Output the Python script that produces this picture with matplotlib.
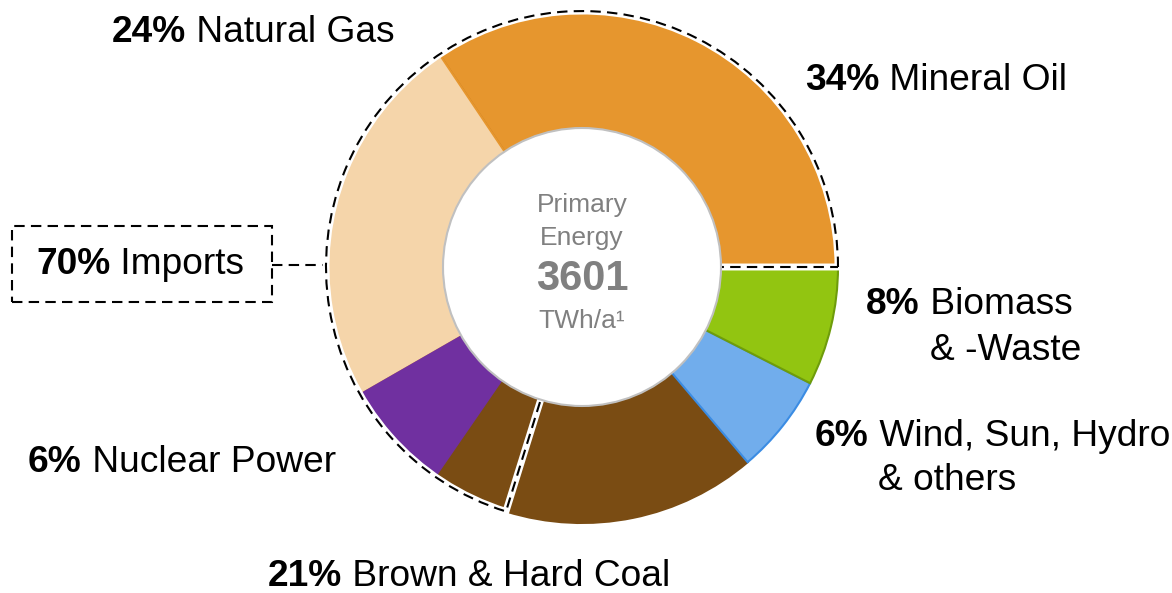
import matplotlib.pyplot as plt
from matplotlib.patches import Wedge, Circle, Rectangle

plt.rcParams['font.family'] = ['Liberation Sans', 'DejaVu Sans']

# wedge shares as drawn (counter-clockwise from 3 o'clock)
sources = ["Mineral Oil", "Natural Gas", "Nuclear Power", "Hard Coal",
           "Brown Coal", "Wind, Sun, Hydro", "Biomass"]
shares = [34.4, 23.9, 7.1, 4.8, 16.0, 6.3, 7.5]
imported = [True, True, True, True, False, False, False]
face_colors = ["#E6962E", "#F5D5AA", "#7030A0", "#7A4C13", "#7A4C13", "#71ADEC", "#92C511"]
edge_colors = ["#C47A1C", "#E6962E", "#7030A0", "#7A4C13", "#7A4C13", "#3B8CE3", "#6E9C0B"]

total_energy = "3601"
imports_pct = "70%"

# label: (bold part, rest, x, y) in pixel coordinates from top-left
labels = [
    ("24%", " Natural Gas", 112, 32),
    ("34%", " Mineral Oil", 805, 80),
    ("8%", " Biomass", 866, 305),
    ("6%", " Wind, Sun, Hydro", 815, 437),
    ("6%", " Nuclear Power", 28, 463),
    ("21%", " Brown & Hard Coal", 268, 577),
]
second_lines = [("& -Waste", 930, 350), ("& others", 878, 481)]

W, H = 1172, 593
FS = 26.7

fig = plt.figure(figsize=(W / 100, H / 100), dpi=100)
ax = fig.add_axes([0, 0, 1, 1])

cx, cy, r_out, r_in = 582, H - 267, 256, 139

wedges, _ = ax.pie(shares, colors=face_colors, startangle=0, counterclock=True,
                   center=(cx, cy), radius=r_out, frame=True)
for w, ec in zip(wedges, edge_colors):
    w.set_edgecolor(ec)
    w.set_linewidth(1.5)

# dashed outline around the imported part
imp_angle = 360 * sum(s for s, i in zip(shares, imported) if i) / sum(shares)
ax.add_patch(Wedge((cx, cy), r_out, 0, imp_angle, fill=False, ec="white", lw=5, zorder=3))
ax.add_patch(Wedge((cx, cy), r_out, 0, imp_angle, fill=False, ec="black", lw=1.5,
                   ls=(0, (5, 3)), zorder=4))

# donut hole
ax.add_patch(Circle((cx, cy), r_in, fc="white", ec="#C0C0C0", lw=1.5, zorder=5))

grey = "#808080"
ax.text(cx, H - 205, "Primary", ha="center", va="center", fontsize=19, color=grey, zorder=6)
ax.text(cx, H - 238, "Energy", ha="center", va="center", fontsize=19, color=grey, zorder=6)
ax.text(cx, H - 279, total_energy, ha="center", va="center", fontsize=30, color=grey,
        fontweight="bold", zorder=6)
ax.text(cx, H - 321, "TWh/a\u00b9", ha="center", va="center", fontsize=19, color=grey, zorder=6)


def label(bold, rest, x, y):
    t = ax.text(x, H - y, bold, ha="left", va="center", fontsize=FS, fontweight="bold")
    ax.annotate(rest, xy=(1, 0.5), xycoords=t, ha="left", va="center", fontsize=FS)


for b, rest, x, y in labels:
    label(b, rest, x, y)
for txt, x, y in second_lines:
    ax.text(x, H - y, txt, ha="left", va="center", fontsize=FS)

# imports box
ax.add_patch(Rectangle((12, H - 302), 260, 76, fill=False, ec="black", lw=1.5, ls=(0, (5, 3))))
ax.plot([272, cx - r_out], [H - 265, H - 265], color="black", lw=1.5, ls=(0, (5, 3)))
label(imports_pct, " Imports", 36, 265)

ax.set_xlim(0, W)
ax.set_ylim(0, H)
ax.set_aspect("equal")
ax.axis("off")

fig.savefig("out.png", dpi=100)
